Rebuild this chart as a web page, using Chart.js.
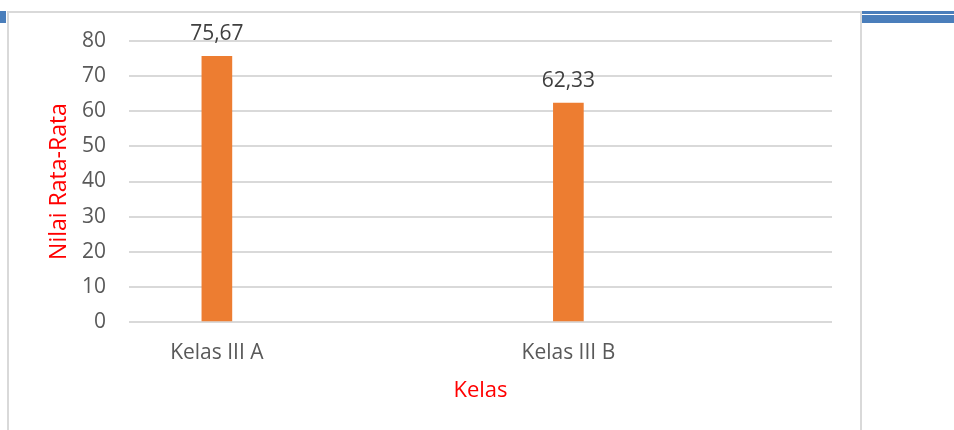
<!DOCTYPE html>
<html>
<head>
<meta charset="utf-8">
<script src="https://cdn.jsdelivr.net/npm/chart.js@4"></script>
<style>
  html, body { margin: 0; padding: 0; background: #fff; }
  #wrap { position: relative; width: 954px; height: 430px; overflow: hidden; }
  #chart { position: absolute; left: 0; top: 0; }
  .frame-left { position: absolute; left: 7px; top: 11px; width: 2px; height: 419px; background: #d9d9d9; }
  .frame-right { position: absolute; left: 860px; top: 11px; width: 2px; height: 419px; background: #d9d9d9; }
  .frame-top { position: absolute; left: 7px; top: 11px; width: 855px; height: 2px; background: #d9d9d9; }
  .blue-l { position: absolute; left: 0; top: 11px; width: 6px; height: 12px; background: #4a7ebb; }
  .blue-r1 { position: absolute; left: 862px; top: 11px; width: 92px; height: 3px; background: #4a7ebb; }
  .blue-r2 { position: absolute; left: 862px; top: 15px; width: 92px; height: 8px; background: #4a7ebb; }
</style>
</head>
<body>
<div id="wrap">
  <div class="blue-l"></div>
  <div class="blue-r1"></div>
  <div class="blue-r2"></div>
  <div class="frame-top"></div>
  <div class="frame-left"></div>
  <div class="frame-right"></div>
  <canvas id="chart" width="954" height="430"></canvas>
</div>
<script>
// data (two empty slots keep the Excel spacing)
const kelas = ["Kelas III A", "", "Kelas III B", ""];
const nilai = [75.67, null, 62.33, null];
const yTicks = [0, 10, 20, 30, 40, 50, 60, 70, 80];

const FONT = "'Open Sans', sans-serif";

// value labels above the bars, comma as decimal sign
const barLabels = {
    id: 'barLabels',
    afterDatasetsDraw(chart) {
        const ctx = chart.ctx;
        const meta = chart.getDatasetMeta(0);
        ctx.save();
        ctx.font = "21px " + FONT;
        ctx.fillStyle = '#404040';
        ctx.textAlign = 'center';
        ctx.textBaseline = 'alphabetic';
        meta.data.forEach((bar, i) => {
            const v = nilai[i];
            if (v === null) return;
            ctx.fillText(v.toFixed(2).replace('.', ','), bar.x, bar.y - 16);
        });
        ctx.restore();
    }
};

new Chart(document.getElementById('chart').getContext('2d'), {
    type: 'bar',
    data: {
        labels: kelas,
        datasets: [{
            data: nilai,
            backgroundColor: '#ed7d31',
            barThickness: 30,
            categoryPercentage: 1,
            barPercentage: 1
        }]
    },
    options: {
        responsive: false,
        animation: false,
        events: [],
        layout: { padding: { left: 0, right: 122, top: 41, bottom: 0 } },
        plugins: {
            legend: { display: false },
            tooltip: { enabled: false }
        },
        scales: {
            x: {
                grid: { display: false, drawTicks: false },
                border: { display: false },
                ticks: {
                    color: '#595959',
                    font: { family: FONT, size: 21 },
                    padding: 18,
                    maxRotation: 0,
                    autoSkip: false
                },
                title: {
                    display: true,
                    text: 'Kelas',
                    color: '#ff0000',
                    font: { family: FONT, size: 22 },
                    padding: { top: 0, bottom: 26 }
                },
                afterFit(scale) { scale.height = 108; }
            },
            y: {
                min: 0,
                max: 80,
                afterBuildTicks(scale) { scale.ticks = yTicks.map(v => ({ value: v })); },
                grid: { color: '#d9d9d9', lineWidth: 2, drawTicks: false },
                border: { display: false },
                ticks: {
                    color: '#595959',
                    font: { family: FONT, size: 21 },
                    padding: 23
                },
                title: {
                    display: true,
                    text: 'Nilai Rata-Rata',
                    color: '#ff0000',
                    font: { family: FONT, size: 23 },
                    padding: { top: 46, bottom: 0 }
                },
                afterFit(scale) { scale.width = 129; }
            }
        }
    },
    plugins: [barLabels]
});
</script>
</body>
</html>
